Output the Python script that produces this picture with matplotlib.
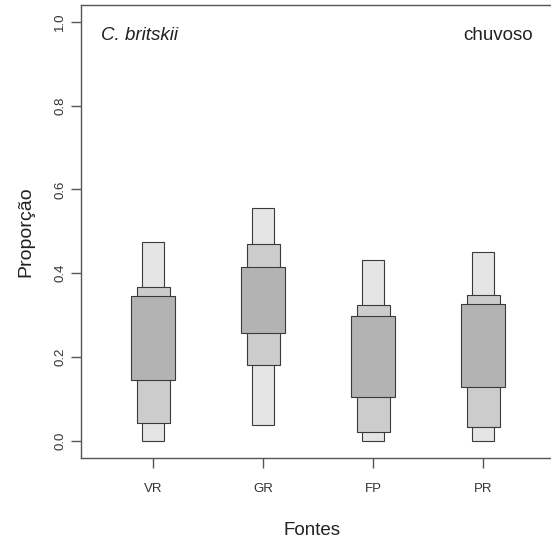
import numpy as np
import matplotlib
matplotlib.use("Agg")
import matplotlib.pyplot as plt

plt.rcParams["font.family"] = ["Liberation Sans", "DejaVu Sans"]

sources = ["VR", "GR", "FP", "PR"]

# credible intervals (low, high)
ci95_low = [0.000, 0.038, 0.000, 0.000]
ci95_high = [0.474, 0.555, 0.432, 0.450]
ci75_low = [0.043, 0.182, 0.021, 0.034]
ci75_high = [0.367, 0.470, 0.324, 0.348]
ci50_low = [0.146, 0.257, 0.104, 0.128]
ci50_high = [0.345, 0.414, 0.297, 0.326]

x = np.arange(1, len(sources) + 1)
edge = "#3a3a3a"

fig = plt.figure(figsize=(5.51, 5.44), dpi=100)
ax = fig.add_axes([80.7 / 551, 1 - 457.7 / 544, 475.3 / 551, 452.7 / 544])

levels = [
    (ci95_low, ci95_high, 0.2, "#e5e5e5"),
    (ci75_low, ci75_high, 0.3, "#cccccc"),
    (ci50_low, ci50_high, 0.4, "#b3b3b3"),
]
for low, high, w, col in levels:
    low = np.array(low)
    high = np.array(high)
    ax.bar(x, high - low, width=w, bottom=low, color=col,
           edgecolor=edge, linewidth=0.8, zorder=2)

ax.set_xlim(0.34, 4.66)
ax.set_ylim(-0.04, 1.04)
ax.set_xticks(x)
ax.set_xticklabels(sources)
ax.set_yticks([0.0, 0.2, 0.4, 0.6, 0.8, 1.0])
ax.set_yticklabels(["0.0", "0.2", "0.4", "0.6", "0.8", "1.0"],
                   rotation=90, va="center")

for s in ax.spines.values():
    s.set_color("#555555")
    s.set_linewidth(1.0)
ax.tick_params(axis="both", colors="#555555", length=7, width=1.0,
               labelcolor="#333333", labelsize=9.5)
ax.tick_params(axis="x", pad=11)
ax.tick_params(axis="y", pad=3.5)

ax.set_xlabel("Fontes", fontsize=13.5, color="#222222")
ax.xaxis.set_label_coords((312 - 80.7) / 475.3, (457.7 - 522) / 452.7)
ax.set_ylabel("Proporção", fontsize=14, color="#222222")
ax.yaxis.set_label_coords((34 - 80.7) / 475.3, 0.5)

ax.text(0.0427, 0.9227, "C. britskii", transform=ax.transAxes,
        fontsize=13.5, style="italic", va="baseline", ha="left", color="#222222")
ax.text(0.9516, 0.9227, "chuvoso", transform=ax.transAxes,
        fontsize=13.5, va="baseline", ha="right", color="#222222")

fig.savefig("out.png", dpi=100)
